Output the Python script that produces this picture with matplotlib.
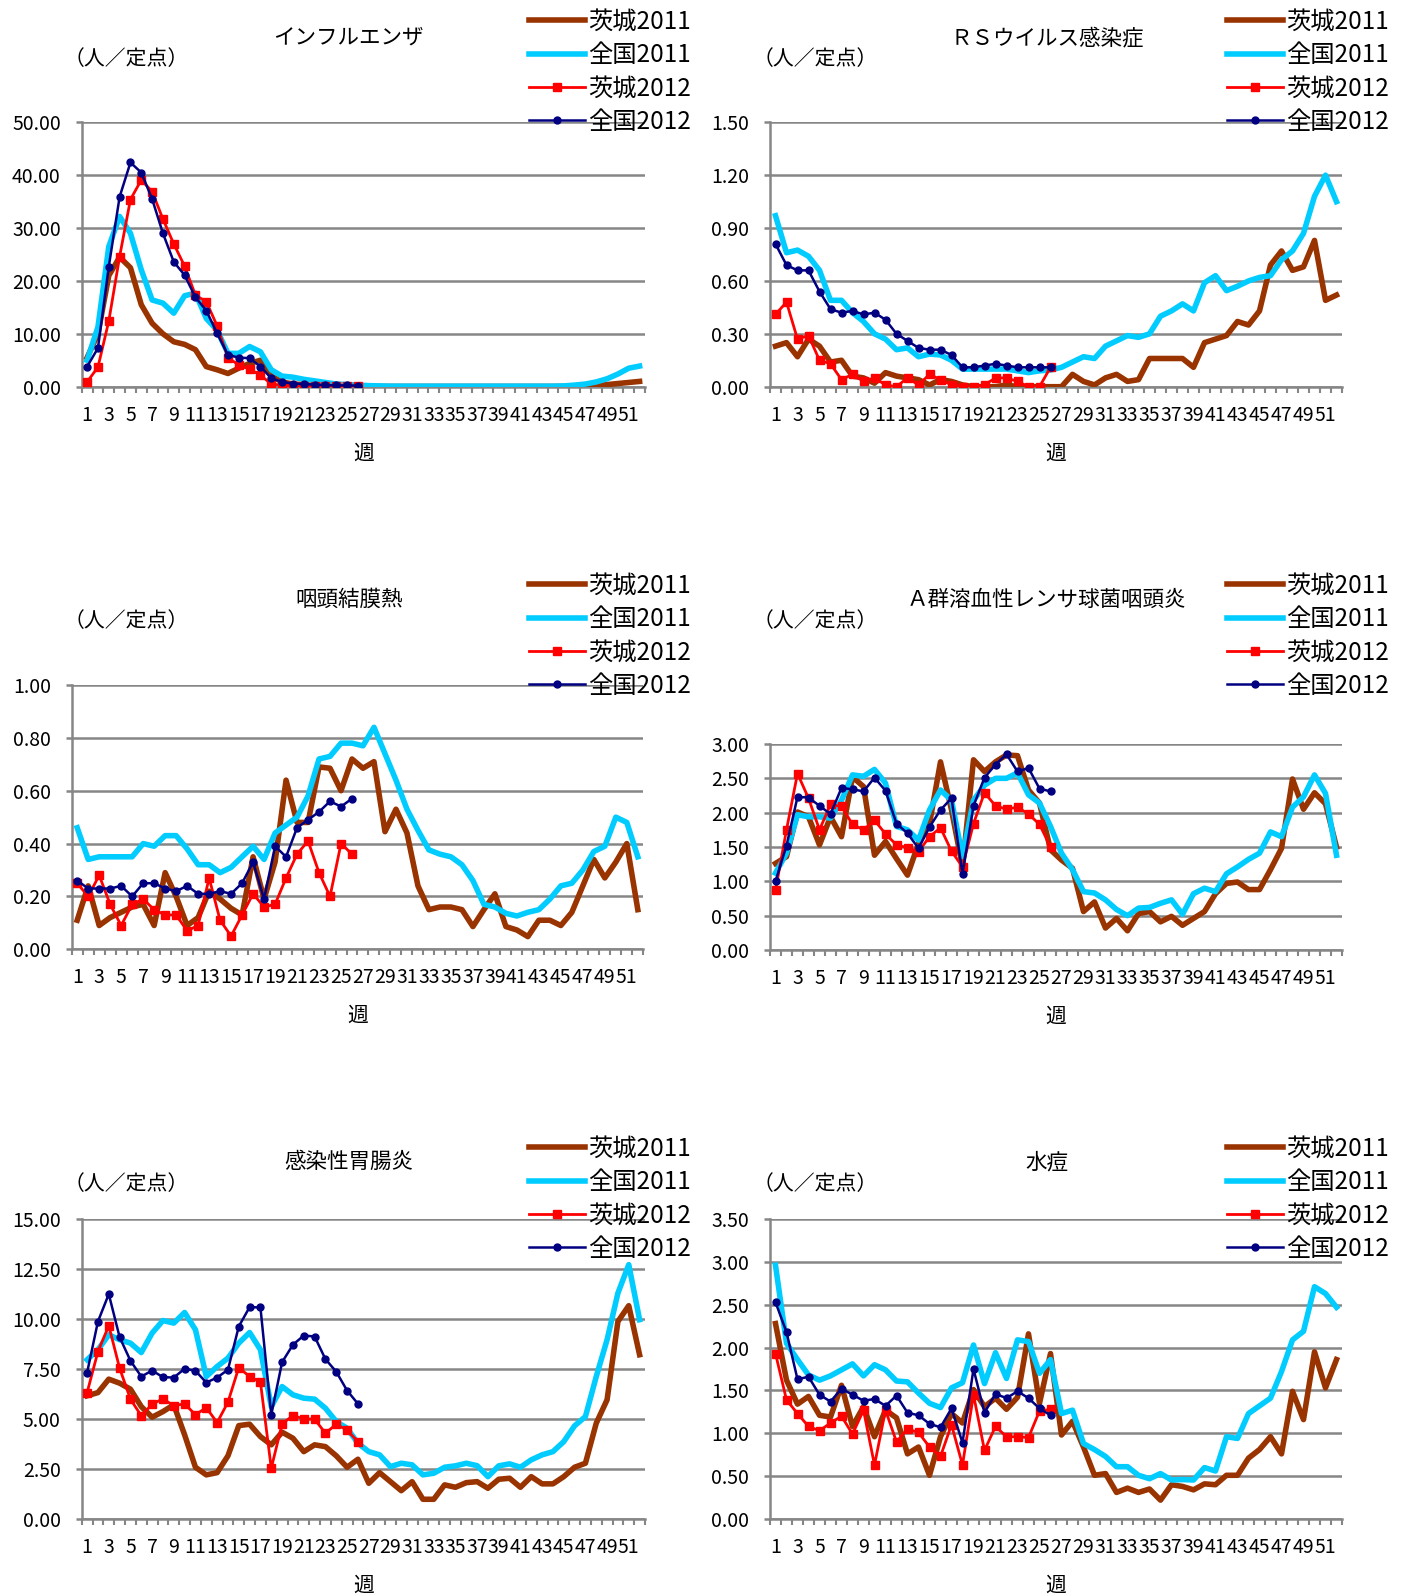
import numpy as np
import matplotlib
matplotlib.use('Agg')
import matplotlib.pyplot as plt
from matplotlib.ticker import FixedLocator, FormatStrFormatter

plt.rcParams['font.family'] = ['Noto Sans CJK JP', 'DejaVu Sans']

W, H = 1410, 1596

weeks = np.arange(1, 53)
weeks_2012 = np.arange(1, 27)
week_labels = [str(w) if w % 2 == 1 else '' for w in weeks]
series_names = ['茨城2011', '全国2011', '茨城2012', '全国2012']
unit_label = '（人／定点）'
x_label = '週'

# インフルエンザ
flu_ib11 = [5.5, 10.0, 21.0, 24.5, 22.5, 15.5, 12.0, 10.0, 8.5, 8.0, 7.0, 3.8, 3.2, 2.5, 3.5, 4.4, 5.0, 2.0, 0.9,
            0.5, 0.4, 0.3, 0.2, 0.2, 0.1, 0.1,
            0.05, 0.05, 0.05, 0.05, 0.05, 0.05, 0.05, 0.05, 0.05, 0.05, 0.05, 0.05, 0.05, 0.05, 0.05, 0.05, 0.05, 0.05, 0.05, 0.05,
            0.1, 0.2, 0.4, 0.6, 0.8, 1.0]
flu_zk11 = [5.0, 11.3, 26.5, 32.2, 29.0, 22.1, 16.4, 15.8, 13.9, 17.2, 17.7, 12.9, 10.7, 6.3, 6.3, 7.6, 6.6, 3.2, 2.0,
            1.8, 1.4, 1.1, 0.8, 0.5, 0.4, 0.3,
            0.2, 0.15, 0.1, 0.1, 0.1, 0.1, 0.1, 0.1, 0.1, 0.1, 0.1, 0.1, 0.1, 0.1, 0.1, 0.1, 0.1, 0.1,
            0.15, 0.3, 0.5, 0.9, 1.5, 2.4, 3.5, 3.9]
flu_ib12 = [0.9, 3.7, 12.4, 24.6, 35.4, 39.1, 36.9, 31.7, 27.0, 22.8, 17.3, 16.1, 11.5, 5.5, 4.1, 3.3, 2.2, 0.5, 0.3,
            0.1, 0.1, 0.1, 0.1, 0.1, 0.1, 0.1]
flu_zk12 = [3.8, 7.3, 22.7, 35.9, 42.4, 40.5, 35.5, 29.0, 23.6, 21.1, 16.9, 14.4, 10.1, 6.0, 5.5, 5.4, 3.8, 1.6, 0.9,
            0.6, 0.5, 0.4, 0.3, 0.25, 0.25, 0.2]

# RSウイルス感染症
rs_ib11 = [0.23, 0.25, 0.17, 0.27, 0.23, 0.14, 0.15, 0.06, 0.05, 0.02, 0.08, 0.06, 0.05, 0.04, 0.01, 0.04, 0.03, 0.01,
           0.0, 0.0, 0.0, 0.01, 0.0, 0.0, 0.0, 0.0,
           0.0, 0.07, 0.03, 0.01, 0.05, 0.07, 0.03, 0.04, 0.16, 0.16, 0.16, 0.16, 0.11, 0.25, 0.27, 0.29, 0.37,
           0.35, 0.43, 0.69, 0.77, 0.66, 0.68, 0.83, 0.49, 0.52]
rs_zk11 = [0.97, 0.76, 0.775, 0.74, 0.66, 0.49, 0.49, 0.42, 0.37, 0.30, 0.27, 0.21, 0.22, 0.17, 0.185, 0.18, 0.15,
           0.10, 0.10, 0.10, 0.10, 0.10, 0.09, 0.08, 0.09, 0.095,
           0.11, 0.14, 0.17, 0.16, 0.23, 0.26, 0.29, 0.28, 0.30, 0.40, 0.43, 0.47, 0.43, 0.59, 0.63, 0.545, 0.57,
           0.60, 0.62, 0.63, 0.72, 0.77, 0.87, 1.08, 1.20, 1.05]
rs_ib12 = [0.41, 0.48, 0.27, 0.29, 0.15, 0.13, 0.04, 0.07, 0.03, 0.05, 0.01, 0.0, 0.05, 0.01, 0.07, 0.04, 0.01, 0.0,
           0.0, 0.01, 0.05, 0.05, 0.03, 0.0, 0.0, 0.11]
rs_zk12 = [0.81, 0.69, 0.66, 0.66, 0.54, 0.44, 0.42, 0.43, 0.41, 0.42, 0.38, 0.30, 0.26, 0.22, 0.21, 0.21, 0.18, 0.11,
           0.11, 0.12, 0.13, 0.12, 0.11, 0.11, 0.11, 0.11]

# 咽頭結膜熱
pcf_ib11 = [0.11, 0.24, 0.09, 0.12, 0.14, 0.16, 0.17, 0.09, 0.29, 0.20, 0.09, 0.12, 0.22, 0.19, 0.155, 0.13, 0.35,
            0.19, 0.33, 0.64, 0.48, 0.48, 0.69, 0.685, 0.60, 0.72,
            0.685, 0.71, 0.445, 0.53, 0.44, 0.24, 0.15, 0.16, 0.16, 0.15, 0.086, 0.15, 0.21, 0.086, 0.073, 0.048,
            0.11, 0.11, 0.09, 0.14, 0.24, 0.34, 0.27, 0.33, 0.40, 0.15]
pcf_zk11 = [0.46, 0.34, 0.35, 0.35, 0.35, 0.35, 0.40, 0.39, 0.43, 0.43, 0.38, 0.32, 0.32, 0.29, 0.31, 0.35, 0.39,
            0.34, 0.44, 0.47, 0.50, 0.58, 0.72, 0.73, 0.78, 0.78,
            0.77, 0.84, 0.74, 0.64, 0.53, 0.45, 0.376, 0.36, 0.35, 0.32, 0.26, 0.17, 0.16, 0.136, 0.126, 0.14,
            0.15, 0.19, 0.24, 0.25, 0.30, 0.37, 0.39, 0.50, 0.48, 0.35]
pcf_ib12 = [0.25, 0.20, 0.28, 0.17, 0.09, 0.17, 0.19, 0.15, 0.13, 0.13, 0.07, 0.09, 0.27, 0.11, 0.05, 0.13, 0.21,
            0.16, 0.17, 0.27, 0.36, 0.41, 0.29, 0.20, 0.40, 0.36]
pcf_zk12 = [0.26, 0.23, 0.23, 0.23, 0.24, 0.20, 0.25, 0.25, 0.23, 0.22, 0.24, 0.21, 0.21, 0.22, 0.21, 0.25, 0.33,
            0.19, 0.39, 0.35, 0.46, 0.49, 0.52, 0.56, 0.54, 0.57]

# A群溶血性レンサ球菌咽頭炎
gas_ib11 = [1.26, 1.36, 2.01, 1.94, 1.53, 1.94, 1.65, 2.52, 2.38, 1.38, 1.58, 1.33, 1.09, 1.55, 1.84, 2.74, 2.04,
            1.21, 2.77, 2.60, 2.74, 2.84, 2.83, 2.33, 2.14, 1.46,
            1.31, 1.19, 0.56, 0.70, 0.32, 0.46, 0.28, 0.53, 0.56, 0.41, 0.49, 0.36, 0.46, 0.56, 0.82, 0.97, 0.99,
            0.88, 0.88, 1.17, 1.48, 2.49, 2.05, 2.29, 2.13, 1.50]
gas_zk11 = [1.12, 1.41, 1.97, 1.94, 1.94, 1.92, 2.18, 2.55, 2.53, 2.63, 2.43, 1.80, 1.75, 1.60, 2.04, 2.33, 2.18,
            1.36, 2.18, 2.40, 2.50, 2.50, 2.58, 2.26, 2.14, 1.80,
            1.41, 1.17, 0.85, 0.83, 0.73, 0.59, 0.50, 0.61, 0.62, 0.68, 0.73, 0.52, 0.82, 0.90, 0.85, 1.11, 1.21,
            1.32, 1.41, 1.72, 1.65, 2.08, 2.23, 2.55, 2.28, 1.38]
gas_ib12 = [0.87, 1.75, 2.57, 2.21, 1.75, 2.12, 2.09, 1.83, 1.75, 1.89, 1.69, 1.53, 1.49, 1.43, 1.65, 1.78, 1.44,
            1.21, 1.84, 2.29, 2.10, 2.05, 2.08, 1.98, 1.83, 1.50]
gas_zk12 = [1.00, 1.52, 2.23, 2.22, 2.10, 1.98, 2.36, 2.34, 2.31, 2.51, 2.32, 1.84, 1.70, 1.48, 1.79, 2.04, 2.21,
            1.11, 2.10, 2.51, 2.70, 2.85, 2.60, 2.65, 2.35, 2.31]

# 感染性胃腸炎
ge_ib11 = [6.17, 6.33, 7.0, 6.8, 6.5, 5.63, 5.1, 5.38, 5.72, 4.22, 2.6, 2.22, 2.33, 3.17, 4.68, 4.75, 4.13, 3.72,
           4.35, 4.05, 3.38, 3.72, 3.63, 3.17, 2.6, 3.0,
           1.8, 2.33, 1.88, 1.43, 1.88, 1.0, 1.0, 1.72, 1.6, 1.83, 1.88, 1.55, 2.0, 2.05, 1.6, 2.13, 1.77, 1.77,
           2.13, 2.6, 2.8, 4.8, 5.97, 9.88, 10.67, 8.22]
ge_zk11 = [7.97, 8.47, 9.22, 8.97, 8.8, 8.33, 9.3, 9.93, 9.8, 10.33, 9.47, 7.13, 7.63, 8.05, 8.8, 9.33, 8.47, 5.63,
           6.63, 6.22, 6.05, 6.0, 5.55, 4.88, 4.55, 3.8,
           3.38, 3.22, 2.63, 2.8, 2.72, 2.22, 2.3, 2.6, 2.67, 2.8, 2.68, 2.13, 2.67, 2.77, 2.6, 2.97, 3.22, 3.38,
           3.88, 4.67, 5.13, 7.13, 8.97, 11.3, 12.72, 9.97]
ge_ib12 = [6.33, 8.38, 9.67, 7.55, 6.0, 5.17, 5.75, 6.02, 5.67, 5.77, 5.22, 5.58, 4.83, 5.85, 7.58, 7.13, 6.85, 2.55,
           4.77, 5.18, 5.02, 5.0, 4.3, 4.75, 4.45, 3.88]
ge_zk12 = [7.33, 9.88, 11.25, 9.10, 7.92, 7.13, 7.43, 7.10, 7.08, 7.52, 7.42, 6.83, 7.08, 7.47, 9.63, 10.6, 10.58,
           5.22, 7.85, 8.72, 9.18, 9.13, 8.0, 7.37, 6.43, 5.77]

# 水痘
vz_ib11 = [2.28, 1.62, 1.34, 1.43, 1.21, 1.19, 1.56, 1.08, 1.31, 0.96, 1.27, 1.18, 0.76, 0.84, 0.51, 0.96, 1.23,
           1.12, 1.51, 1.31, 1.41, 1.28, 1.42, 2.16, 1.35, 1.93,
           0.98, 1.14, 0.84, 0.51, 0.53, 0.31, 0.36, 0.31, 0.35, 0.22, 0.40, 0.38, 0.34, 0.41, 0.40, 0.51, 0.51,
           0.71, 0.81, 0.96, 0.76, 1.49, 1.16, 1.95, 1.53, 1.86]
vz_zk11 = [2.96, 2.05, 1.86, 1.68, 1.62, 1.67, 1.74, 1.81, 1.67, 1.80, 1.74, 1.61, 1.60, 1.47, 1.35, 1.30, 1.53,
           1.59, 2.03, 1.58, 1.94, 1.64, 2.09, 2.07, 1.70, 1.86,
           1.23, 1.27, 0.88, 0.81, 0.73, 0.61, 0.61, 0.51, 0.47, 0.53, 0.455, 0.46, 0.455, 0.60, 0.56, 0.96, 0.94,
           1.23, 1.32, 1.41, 1.72, 2.09, 2.19, 2.71, 2.63, 2.47]
vz_ib12 = [1.93, 1.39, 1.23, 1.08, 1.03, 1.12, 1.20, 0.99, 1.27, 0.63, 1.27, 0.90, 1.05, 1.01, 0.84, 0.73, 1.10,
           0.63, 1.45, 0.80, 1.08, 0.96, 0.96, 0.95, 1.26, 1.28]
vz_zk12 = [2.53, 2.18, 1.63, 1.66, 1.45, 1.37, 1.52, 1.45, 1.38, 1.40, 1.32, 1.44, 1.24, 1.21, 1.11, 1.07, 1.29,
           0.89, 1.75, 1.24, 1.46, 1.41, 1.49, 1.41, 1.29, 1.21]

# パネル設定 (pixel box: left, top, right, bottom)
panels = [
    dict(title='インフルエンザ', ymax=50, step=10, data=(flu_ib11, flu_zk11, flu_ib12, flu_zk12),
         box=(81.7, 122.3, 645, 386.7), title_xy=(348, 38), unit_xy=(64, 59), leg_xy=(529, 9)),
    dict(title='ＲＳウイルス感染症', ymax=1.5, step=0.3, data=(rs_ib11, rs_zk11, rs_ib12, rs_zk12),
         box=(770, 122.3, 1342, 386.7), title_xy=(1047, 38), unit_xy=(753, 59), leg_xy=(1227, 9)),
    dict(title='咽頭結膜熱', ymax=1.0, step=0.2, data=(pcf_ib11, pcf_zk11, pcf_ib12, pcf_zk12),
         box=(71.7, 685, 643.3, 949.3), title_xy=(349, 600), unit_xy=(64, 621), leg_xy=(529, 573)),
    dict(title='Ａ群溶血性レンサ球菌咽頭炎', ymax=3.0, step=0.5, data=(gas_ib11, gas_zk11, gas_ib12, gas_zk12),
         box=(770, 744, 1342, 950), title_xy=(1046, 600), unit_xy=(753, 621), leg_xy=(1227, 573)),
    dict(title='感染性胃腸炎', ymax=15, step=2.5, data=(ge_ib11, ge_zk11, ge_ib12, ge_zk12),
         box=(81.7, 1219, 645, 1519.3), title_xy=(349, 1162), unit_xy=(64, 1184), leg_xy=(529, 1136)),
    dict(title='水痘', ymax=3.5, step=0.5, data=(vz_ib11, vz_zk11, vz_ib12, vz_zk12),
         box=(770, 1219, 1342, 1519), title_xy=(1047, 1162), unit_xy=(753, 1184), leg_xy=(1227, 1136)),
]

grid_color = '#868686'
styles = [
    dict(color='#993300', lw=4.0, zorder=3),
    dict(color='#00CCFF', lw=4.0, zorder=4),
    dict(color='#FF0000', lw=2.0, marker='s', ms=5.8, zorder=5),
    dict(color='#000080', lw=1.8, marker='o', ms=5.0, zorder=6),
]

fig = plt.figure(figsize=(W / 100, H / 100), dpi=100)

for p in panels:
    l, t, r, b = p['box']
    ax = fig.add_axes([l / W, 1 - b / H, (r - l) / W, (b - t) / H])
    ib11, zk11, ib12, zk12 = p['data']
    lines = []
    for xs, ys, st, name in zip((weeks, weeks, weeks_2012, weeks_2012), (ib11, zk11, ib12, zk12),
                                styles, series_names):
        ln, = ax.plot(xs, ys, label=name, **st)
        lines.append(ln)

    ax.set_xlim(0.5, 52.5)
    ax.set_ylim(0, p['ymax'])
    yt = np.round(np.arange(0, p['ymax'] + p['step'] / 2, p['step']), 4)
    ax.set_yticks(yt)
    ax.yaxis.set_major_formatter(FormatStrFormatter('%.2f'))
    ax.yaxis.grid(True, color=grid_color, lw=1.8)
    ax.set_axisbelow(True)
    ax.set_xticks(weeks)
    ax.set_xticklabels(week_labels)
    ax.xaxis.set_minor_locator(FixedLocator(np.arange(0.5, 53, 1)))
    ax.tick_params(axis='x', which='major', length=0, pad=13, labelsize=14)
    ax.tick_params(axis='x', which='minor', length=4, width=1.5, color=grid_color, direction='out')
    ax.tick_params(axis='y', which='major', length=4, width=1.8, color=grid_color, pad=11, labelsize=14)
    for s in ('top', 'right'):
        ax.spines[s].set_visible(False)
    for s in ('left', 'bottom'):
        ax.spines[s].set_color(grid_color)
        ax.spines[s].set_linewidth(1.8)
    ax.set_xlabel(x_label, fontsize=15, labelpad=12)

    fig.text(p['title_xy'][0] / W, 1 - p['title_xy'][1] / H, p['title'], fontsize=15.5,
             ha='center', va='center')
    fig.text(p['unit_xy'][0] / W, 1 - p['unit_xy'][1] / H, unit_label, fontsize=15,
             ha='left', va='center')
    leg = ax.legend(handles=lines, loc='upper left',
                    bbox_to_anchor=(p['leg_xy'][0] / W, 1 - p['leg_xy'][1] / H),
                    bbox_transform=fig.transFigure, frameon=False, fontsize=17.5,
                    handlelength=2.3, handletextpad=0.12, labelspacing=0.3,
                    borderpad=0, borderaxespad=0, numpoints=1)
    leg.set_zorder(10)

fig.savefig('out.png', dpi=100)
